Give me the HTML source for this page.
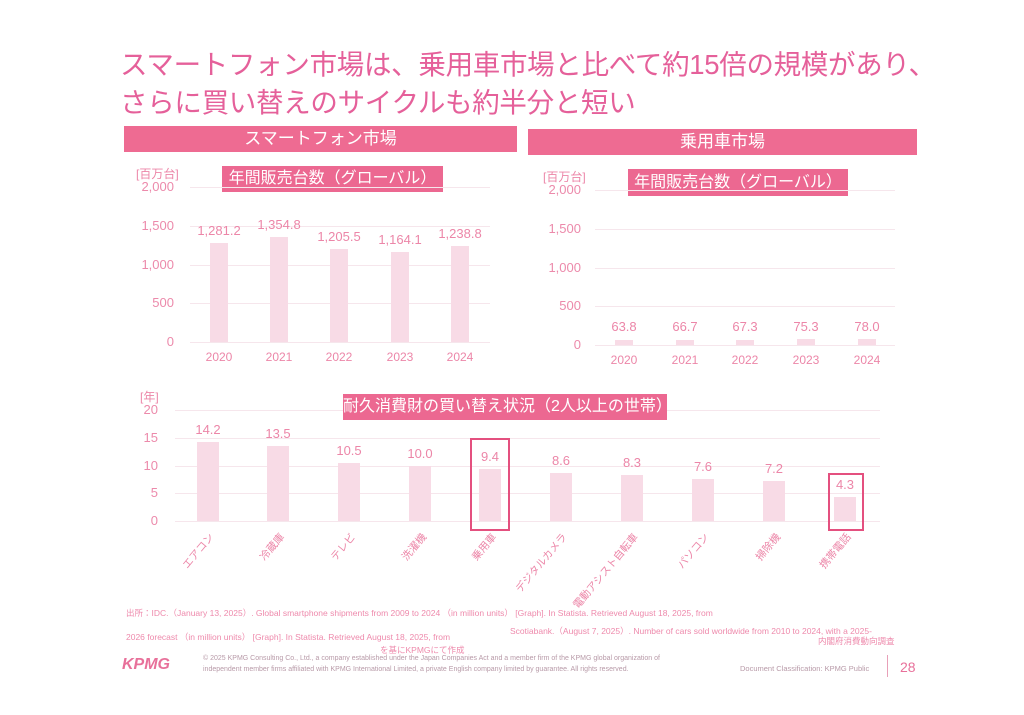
<!DOCTYPE html>
<html><head><meta charset="utf-8"><style>
body{margin:0;width:1024px;height:715px;background:#fff;overflow:hidden;position:relative;font-family:"Liberation Sans","Noto Sans CJK JP",sans-serif;color:#e8789d}
.a{position:absolute;white-space:nowrap}
.t{font-size:27.5px;color:#e5609a;left:120px;letter-spacing:-0.3px}
.hd{background:#ee6b92;color:#fff;text-align:center;font-size:17px}
.sh{background:#ec6891;color:#fff;text-align:center;font-size:16px}
.yl{font-size:13px;text-align:right;width:50px;color:#ec8aab}
.g{height:1px;background:#f6e6ec}
.bar{background:#f8dbe6}
.v{font-size:13px;text-align:center;width:60px;color:#ec86a8}
.x{font-size:12px;text-align:center;width:50px;color:#ec86a8}
.f{font-size:8.5px;color:#ee8aac}
</style></head><body>
<div class="a t" style="top:42px">スマートフォン市場は、乗用車市場と比べて約15倍の規模があり、</div>
<div class="a t" style="top:80px">さらに買い替えのサイクルも約半分と短い</div>
<div class="a hd" style="left:124px;top:126px;width:393px;height:26px;line-height:26px">スマートフォン市場</div>
<div class="a hd" style="left:528px;top:129px;width:389px;height:26px;line-height:26px">乗用車市場</div>
<div class="a sh" style="left:222px;top:166px;width:221px;height:26px;line-height:26px">年間販売台数（グローバル）</div>
<div class="a sh" style="left:628px;top:169px;width:220px;height:27px;line-height:27px">年間販売台数（グローバル）</div>
<div class="a" style="left:136px;top:165px;font-size:12px;color:#ec86a8">[百万台]</div>
<div class="a" style="left:543px;top:168px;font-size:12px;color:#ec86a8">[百万台]</div>
<div id="c"></div>
<div class="a" style="left:140px;top:388px;font-size:12px;color:#ec86a8">[年]</div>
<div class="a sh" style="left:343px;top:394px;width:324px;height:26px;line-height:26px">耐久消費財の買い替え状況（2人以上の世帯）</div>
<div class="a" style="left:470px;top:438px;width:36px;height:89px;border:2px solid #e4507f"></div>
<div class="a" style="left:828px;top:473px;width:32px;height:54px;border:2px solid #e4507f"></div>
<div class="a f" style="left:126px;top:607px">出所：IDC.（January 13, 2025）. Global smartphone shipments from 2009 to 2024 （in million units） [Graph]. In Statista. Retrieved August 18, 2025, from</div>
<div class="a f" style="left:510px;top:625px">Scotiabank.（August 7, 2025）. Number of cars sold worldwide from 2010 to 2024, with a 2025-</div>
<div class="a f" style="left:126px;top:631px">2026 forecast （in million units） [Graph]. In Statista. Retrieved August 18, 2025, from</div>
<div class="a f" style="left:818px;top:635px">内閣府消費動向調査</div>
<div class="a f" style="left:380px;top:644px">を基にKPMGにて作成</div>
<div class="a" style="left:122px;top:656px;font-size:16px;font-weight:bold;font-style:italic;color:#e8709a">KPMG</div>
<div class="a" style="left:203px;top:655px;font-size:7px;color:#b89aa8">© 2025 KPMG Consulting Co., Ltd., a company established under the Japan Companies Act and a member firm of the KPMG global organization of</div>
<div class="a" style="left:203px;top:666px;font-size:7px;color:#b89aa8">independent member firms affiliated with KPMG International Limited, a private English company limited by guarantee. All rights reserved.</div>
<div class="a" style="left:740px;top:664px;font-size:7.5px;color:#b89aa8">Document Classification: KPMG Public</div>
<div class="a" style="left:887px;top:655px;width:1px;height:22px;background:#e8a0b8"></div>
<div class="a" style="left:900px;top:659px;font-size:14px;color:#e8709a">28</div>
<script>
var h='';
function chart(x0,x1,yTop,yBot,max,step,labx,cx,vals,yrs,bw,vfmt){
 for(var v=0;v<=max;v+=step){var y=yBot-(yBot-yTop)*v/max;
  h+='<div class="a g" style="left:'+x0+'px;top:'+y+'px;width:'+(x1-x0)+'px"></div>';
  h+='<div class="a yl" style="left:'+(labx-50)+'px;top:'+(y-8)+'px">'+v.toLocaleString('en-US')+'</div>';}
 for(var i=0;i<vals.length;i++){var bh=(yBot-yTop)*vals[i]/max;
  h+='<div class="a bar" style="left:'+(cx[i]-bw/2)+'px;top:'+(yBot-bh)+'px;width:'+bw+'px;height:'+bh+'px"></div>';
  var ty=Math.min(yBot-bh-20,yBot-26);
  h+='<div class="a v" style="left:'+(cx[i]-30)+'px;top:'+ty+'px">'+vfmt(vals[i])+'</div>';
  if(yrs)h+='<div class="a x" style="left:'+(cx[i]-25)+'px;top:'+(yBot+8)+'px">'+yrs[i]+'</div>';}
}
var yrs=[2020,2021,2022,2023,2024];
var f1=function(v){return v.toLocaleString('en-US',{minimumFractionDigits:1})};
chart(190,490,187,342,2000,500,174,[219,279,339,400,460],[1281.2,1354.8,1205.5,1164.1,1238.8],yrs,18,f1);
chart(595,895,190,345,2000,500,581,[624,685,745,806,867],[63.8,66.7,67.3,75.3,78.0],yrs,18,f1);
var cx=[208,278,349,420,490,561,632,703,774,845];
chart(175,880,410,521,20,5,158,cx,[14.2,13.5,10.5,10.0,9.4,8.6,8.3,7.6,7.2,4.3],null,22,function(v){return v.toFixed(1)});
var cats=['エアコン','冷蔵庫','テレビ','洗濯機','乗用車','デジタルカメラ','電動アシスト自転車','パソコン','掃除機','携帯電話'];
for(var i=0;i<cats.length;i++){h+='<div class="a" style="right:'+(1024-cx[i]+2)+'px;top:530px;font-size:10.5px;color:#ec86a8;transform-origin:100% 0;transform:rotate(-50deg)">'+cats[i]+'</div>';}
document.getElementById('c').innerHTML=h;
</script>
</body></html>
